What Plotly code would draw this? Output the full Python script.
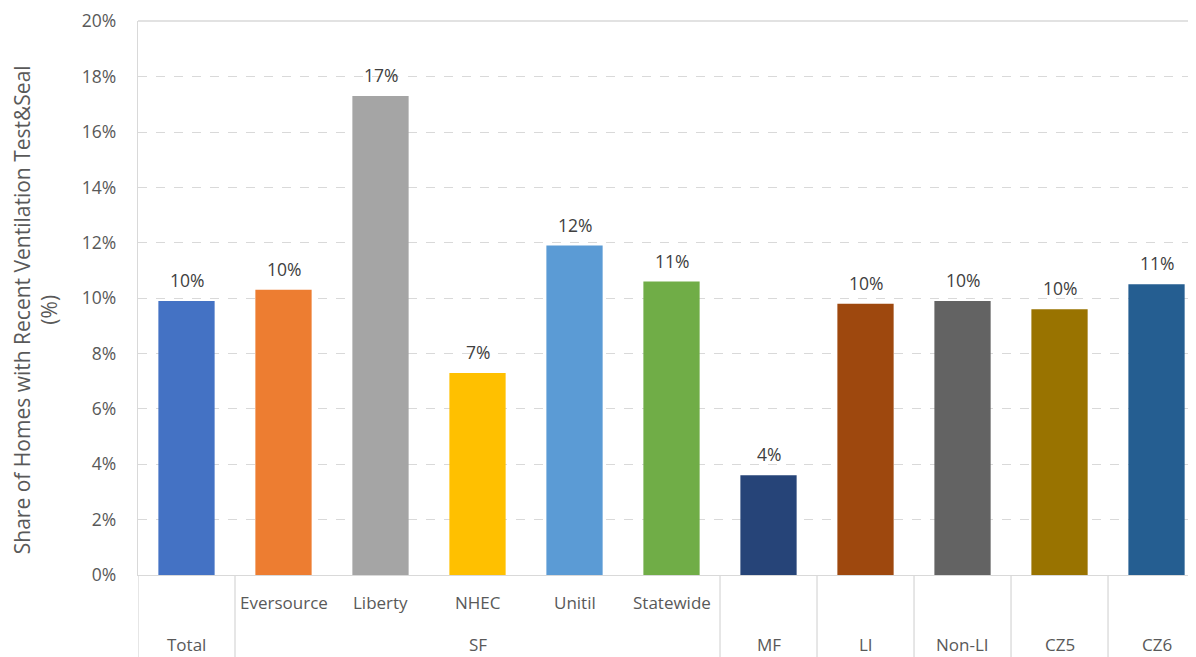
import plotly.graph_objects as go

categories = ["Total", "Eversource", "Liberty", "NHEC", "Unitil", "Statewide",
              "MF", "LI", "Non-LI", "CZ5", "CZ6"]
inner_labels = ["", "Eversource", "Liberty", "NHEC", "Unitil", "Statewide",
                "", "", "", "", ""]
groups = ["Total", "SF", "SF", "SF", "SF", "SF", "MF", "LI", "Non-LI", "CZ5", "CZ6"]
values = [9.9, 10.3, 17.3, 7.3, 11.9, 10.6, 3.6, 9.8, 9.9, 9.6, 10.5]
value_labels = ["10%", "10%", "17%", "7%", "12%", "11%", "4%", "10%", "10%", "10%", "11%"]
colors = ["#4472C4", "#ED7D31", "#A5A5A5", "#FFC000", "#5B9BD5", "#70AD47",
          "#264478", "#9E480E", "#636363", "#997300", "#255E91"]
y_ticks = [0, 2, 4, 6, 8, 10, 12, 14, 16, 18, 20]

FONT = "Open Sans"
GRID = "#d9d9d9"
PLOT_W = 1058
PLOT_H = 556

fig = go.Figure()
fig.add_trace(go.Bar(
    x=list(range(len(categories))),
    y=values,
    marker=dict(color=colors, line=dict(width=0)),
    hovertext=categories,
))

shapes = []
annotations = []

# value labels above bars
for i, (v, lab) in enumerate(zip(values, value_labels)):
    annotations.append(dict(x=i, y=v, xref="x", yref="y", text=lab, showarrow=False,
                            yanchor="middle", xanchor="center", yshift=21,
                            font=dict(family=FONT, size=17.5, color="#404040")))

# inner labels
for i, lab in enumerate(inner_labels):
    if lab:
        annotations.append(dict(x=i, y=-28 / PLOT_H, xref="x", yref="paper", text=lab,
                                showarrow=False, yanchor="middle", xanchor="center",
                                font=dict(family=FONT, size=17, color="#595959")))

# outer group labels and dividers
group_spans = []
start = 0
for i in range(1, len(groups) + 1):
    if i == len(groups) or groups[i] != groups[start]:
        group_spans.append((groups[start], start, i - 1))
        start = i
for name, a, b in group_spans:
    annotations.append(dict(x=(a + b) / 2, y=-70 / PLOT_H, xref="x", yref="paper", text=name,
                            showarrow=False, yanchor="middle", xanchor="center",
                            font=dict(family=FONT, size=17, color="#595959")))
    shapes.append(dict(type="line", xref="x", yref="paper", x0=a - 0.5, x1=a - 0.5,
                       y0=0, y1=-0.16, line=dict(color=GRID, width=1.3)))

# top solid border line
shapes.append(dict(type="line", xref="paper", yref="paper", x0=0, x1=1, y0=1, y1=1,
                   line=dict(color=GRID, width=1.3)))

annotations.append(dict(x=-(130 - 27) / PLOT_W, y=0.478, xref="paper", yref="paper",
                        text="Share of Homes with Recent Ventilation Test&Seal<br>(%)",
                        textangle=-90, showarrow=False, xanchor="center", yanchor="middle",
                        font=dict(family=FONT, size=21, color="#595959")))

fig.update_layout(
    width=1188, height=649,
    margin=dict(l=130, r=0, t=11, b=82),
    paper_bgcolor="white", plot_bgcolor="white",
    bargap=0.42,
    showlegend=False,
    shapes=shapes,
    annotations=annotations,
    xaxis=dict(range=[-0.5, 10.407], showticklabels=False, showgrid=False,
               showline=True, linecolor=GRID, linewidth=1.3, zeroline=False, ticks=""),
    yaxis=dict(range=[0, 20.01], tickvals=y_ticks, ticktext=[f"{v}%" for v in y_ticks],
               showgrid=True, gridcolor=GRID, griddash="dash", gridwidth=1.3,
               showline=True, linecolor=GRID, linewidth=1.3, zeroline=False,
               ticks="", ticklabelstandoff=17, ticklabeloverflow="allow",
               tickfont=dict(family=FONT, size=17.5, color="#595959")),
)

fig.write_html("out.html")
